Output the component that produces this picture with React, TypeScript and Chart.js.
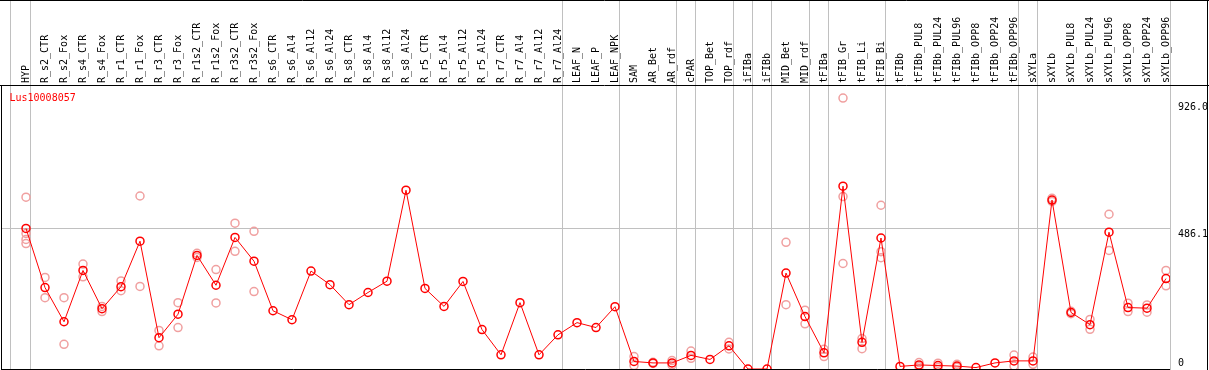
import React, { useEffect, useRef } from 'react';
import { Chart, registerables } from 'chart.js';

Chart.register(...registerables);

const chartTitle = 'Lus10008057';

const categories = [
  'HYP', 'R_s2_CTR', 'R_s2_Fox', 'R_s4_CTR', 'R_s4_Fox', 'R_r1_CTR', 'R_r1_Fox', 'R_r3_CTR', 'R_r3_Fox',
  'R_r1s2_CTR', 'R_r1s2_Fox', 'R_r3s2_CTR', 'R_r3s2_Fox', 'R_s6_CTR', 'R_s6_Al4', 'R_s6_Al12', 'R_s6_Al24',
  'R_s8_CTR', 'R_s8_Al4', 'R_s8_Al12', 'R_s8_Al24', 'R_r5_CTR', 'R_r5_Al4', 'R_r5_Al12', 'R_r5_Al24',
  'R_r7_CTR', 'R_r7_Al4', 'R_r7_Al12', 'R_r7_Al24', 'LEAF_N', 'LEAF_P', 'LEAF_NPK', 'SAM', 'AR_Bet', 'AR_rdf',
  'cPAR', 'TOP_Bet', 'TOP_rdf', 'iFIBa', 'iFIBb', 'MID_Bet', 'MID_rdf', 'tFIBa', 'tFIB_Gr', 'tFIB_Li', 'tFIB_Bi',
  'tFIBb', 'tFIBb_PUL8', 'tFIBb_PUL24', 'tFIBb_PUL96', 'tFIBb_OPP8', 'tFIBb_OPP24', 'tFIBb_OPP96', 'sXYLa',
  'sXYLb', 'sXYLb_PUL8', 'sXYLb_PUL24', 'sXYLb_PUL96', 'sXYLb_OPP8', 'sXYLb_OPP24', 'sXYLb_OPP96',
];

const meanValues = [
  485, 281, 163, 340, 208, 284, 441, 108, 189,
  392, 289, 454, 372, 201, 170, 338, 291,
  222, 264, 303, 617, 278, 216, 302, 136,
  49, 229, 49, 118, 160, 143, 215, 26, 21, 21,
  47, 33, 80, 0, 0, 331, 181, 56, 631, 92, 452,
  9, 14, 12, 10, 5, 21, 28, 28,
  583, 195, 153, 472, 212, 210, 312,
];

const replicateValues: number[][] = [
  [593, 468, 447, 433], [316, 246], [246, 85], [362, 318], [216, 198], [304, 270], [597, 285], [133, 80], [229, 143],
  [399, 385], [343, 228], [503, 406], [475, 267], [], [], [], [],
  [], [], [], [], [], [], [], [],
  [], [], [], [], [], [], [], [43, 12], [23, 19], [29, 14],
  [62, 37], [], [92, 69], [], [], [437, 222], [203, 156], [68, 43], [935, 595, 364], [105, 70], [565, 405, 384],
  [], [22, 8], [20, 5], [16, 6], [], [], [48, 10], [41, 16],
  [589, 578], [199, 191], [171, 137], [534, 409], [227, 198], [221, 196], [340, 287],
];

const yTickValues = [0, 486.1, 926.0];
const yTickLabels = ['0', '486.1', '926.0'];
const yMax = 980;

// group separators (category-index positions)
const groupBoundaries = [-0.8, 0.25, 28.25, 31.25, 34.25, 35.25, 37.25, 38.25, 39.25, 41.25, 42.25, 45.25, 52.25, 53.25, 60.25];

const FONT = 'DejaVu Sans Mono';

export default function App() {
  const ref = useRef<HTMLCanvasElement>(null);

  useEffect(() => {
    const canvas = ref.current;
    if (!canvas) return;

    const meanData = meanValues.map((v, i) => ({ x: i, y: v }));
    const repData = replicateValues.flatMap((arr, i) => arr.map((v) => ({ x: i, y: v })));

    const decorPlugin = {
      id: 'decor',
      beforeDatasetsDraw(chart: any) {
        const { ctx } = chart;
        const xs = chart.scales.x;
        ctx.save();
        ctx.strokeStyle = '#c0c0c0';
        ctx.lineWidth = 1;
        groupBoundaries.forEach((b) => {
          const px = Math.floor(xs.getPixelForValue(b)) + 0.5;
          ctx.beginPath();
          ctx.moveTo(px, 0);
          ctx.lineTo(px, chart.height);
          ctx.stroke();
        });
        ctx.restore();
      },
      afterDraw(chart: any) {
        const { ctx, chartArea } = chart;
        const ys = chart.scales.y;
        const W = chart.width;
        const H = chart.height;
        ctx.save();
        ctx.strokeStyle = '#000';
        ctx.lineWidth = 1;
        ctx.beginPath();
        ctx.moveTo(0, 0.5); ctx.lineTo(W, 0.5);
        ctx.moveTo(0, chartArea.top + 0.5); ctx.lineTo(W, chartArea.top + 0.5);
        ctx.moveTo(W - 1.5, 0); ctx.lineTo(W - 1.5, H);
        ctx.moveTo(1.5, chartArea.top); ctx.lineTo(1.5, H);
        ctx.moveTo(1, H - 0.5); ctx.lineTo(chartArea.right, H - 0.5);
        ctx.stroke();

        // title
        ctx.fillStyle = '#ff0000';
        ctx.font = `10px "${FONT}"`;
        ctx.textAlign = 'left';
        ctx.textBaseline = 'alphabetic';
        ctx.fillText(chartTitle, chartArea.left + 7.5, chartArea.top + 16);

        // right axis labels
        ctx.fillStyle = '#000';
        yTickValues.forEach((v, i) => {
          const py = ys.getPixelForValue(v);
          const yy = v === 0 ? py - 3.5 : py + 9;
          ctx.fillText(yTickLabels[i], chartArea.right + 8, yy);
        });
        ctx.restore();
      },
    };

    const chart = new Chart(canvas, {
      type: 'line',
      data: {
        datasets: [
          {
            type: 'line',
            data: meanData,
            borderColor: '#ff0000',
            borderWidth: 1,
            pointRadius: 4,
            pointBorderWidth: 1.5,
            pointBorderColor: '#ff0000',
            pointBackgroundColor: 'rgba(0,0,0,0)',
            tension: 0,
            order: 0,
          } as any,
          {
            type: 'scatter',
            data: repData,
            showLine: false,
            pointRadius: 4,
            pointBorderWidth: 1.5,
            pointBorderColor: '#f0a0a0',
            pointBackgroundColor: 'rgba(0,0,0,0)',
            order: 1,
          } as any,
        ],
      },
      options: {
        animation: false,
        responsive: false,
        maintainAspectRatio: false,
        layout: { autoPadding: false, padding: { left: 2, right: 0, top: 0, bottom: 1 } },
        plugins: {
          legend: { display: false },
          tooltip: { enabled: false },
          title: { display: false },
        },
        scales: {
          x: {
            type: 'linear',
            position: 'top',
            min: -24 / 19,
            max: 60 + 4 / 19,
            afterBuildTicks: (s: any) => {
              s.ticks = categories.map((_, i) => ({ value: i }));
            },
            afterFit: (s: any) => {
              s.height = 85;
              s.paddingLeft = 0;
              s.paddingRight = 0;
            },
            ticks: {
              autoSkip: false,
              minRotation: 90,
              maxRotation: 90,
              padding: 2,
              labelOffset: 12,
              color: '#000',
              font: { family: FONT, size: 10, lineHeight: 1.2 },
              callback: (v: any) => categories[v] ?? '',
            },
            grid: { display: false, drawTicks: false },
            border: { display: false },
          },
          y: {
            type: 'linear',
            position: 'right',
            min: 0,
            max: yMax,
            afterBuildTicks: (s: any) => {
              s.ticks = yTickValues.map((v) => ({ value: v }));
            },
            afterFit: (s: any) => {
              s.width = 39;
              s.paddingTop = 0;
              s.paddingBottom = 0;
            },
            ticks: { display: false },
            grid: {
              color: (c: any) => (c.tick && c.tick.value === 486.1 ? '#c0c0c0' : 'rgba(0,0,0,0)'),
              drawTicks: false,
              lineWidth: 1,
            },
            border: { display: false },
          },
        },
      } as any,
      plugins: [decorPlugin],
    });

    return () => chart.destroy();
  }, []);

  return (
    <div style={{ position: 'fixed', left: 0, top: 0, width: 1209, height: 370, background: '#fff' }}>
      <canvas ref={ref} width={1209} height={370} style={{ display: 'block' }} />
    </div>
  );
}
